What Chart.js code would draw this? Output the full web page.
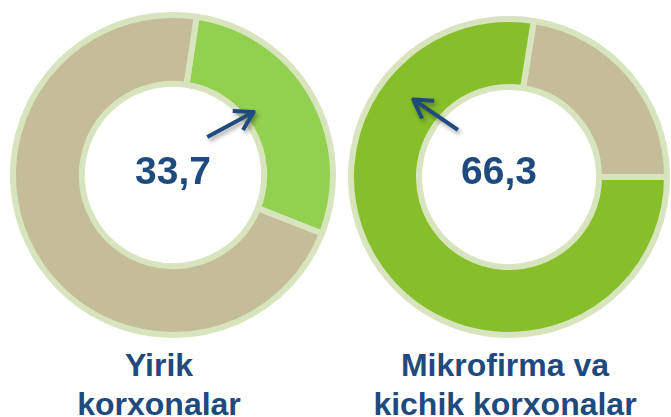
<!DOCTYPE html>
<html>
<head>
<meta charset="utf-8">
<script src="https://cdn.jsdelivr.net/npm/chart.js@4.4.1/dist/chart.umd.min.js"></script>
<style>
  html, body { margin: 0; padding: 0; background: #ffffff; width: 671px; height: 417px; overflow: hidden; }
  #wrap { position: relative; width: 671px; height: 417px; }
  canvas { position: absolute; }
  .lbl { position: absolute; text-align: center; color: #1F4A7E;
         font: bold 32px "Liberation Sans", Arial, sans-serif; line-height: 39px; white-space: nowrap; }
</style>
</head>
<body>
<div id="wrap">
  <canvas id="c1" width="326" height="326" style="left:9.5px; top:12px;"></canvas>
  <canvas id="c2" width="322" height="322" style="left:348px; top:16px;"></canvas>
  <div class="lbl" id="l1" style="left:59px; width:200px; top:346px;"></div>
  <div class="lbl" id="l2" style="left:355px; width:300px; top:346px;"></div>
</div>
<script>
// ---- data ----
const donutTitles = [['Yirik', 'korxonalar'], ['Mikrofirma va', 'kichik korxonalar']];
const centerValues = ['33,7', '66,3'];
const leftSliceLabels = ['Yirik korxonalar', 'Boshqalar'];
const leftSliceValues = [28.6, 71.4];
const rightSliceLabels = ['Boshqalar', 'Mikrofirma va kichik korxonalar'];
const rightSliceValues = [22.5, 77.5];

// ---- styles ----
const TAN = '#C4BD97';
const LIGHT_GREEN = '#92D050';
const DARK_GREEN = '#86BF29';
const EDGE = '#D7E4BD';
const TEXT_BLUE = '#1F4A7E';

const decorPlugin = {
  id: 'centerDecor',
  afterDatasetsDraw(chart, args, opts) {
    const o = (opts && opts.text) ? opts : chart.config.options.plugins.centerDecor;
    const arc = chart.getDatasetMeta(0).data[0];
    const p = arc.getProps(['x', 'y', 'outerRadius'], true);
    const cx = p.x, cy = p.y, R = p.outerRadius;
    const ctx = chart.ctx;
    const pt = (deg, frac) => {
      const a = deg * Math.PI / 180;
      return [cx + Math.sin(a) * frac * R, cy - Math.cos(a) * frac * R];
    };
    const [tx, ty] = pt(o.tailAngle, o.tailR);
    const [hx, hy] = pt(o.tipAngle, o.tipR);
    ctx.save();
    ctx.shadowColor = 'rgba(0,0,0,0.35)';
    ctx.shadowBlur = 4;
    ctx.shadowOffsetX = 2;
    ctx.shadowOffsetY = 3;
    ctx.strokeStyle = TEXT_BLUE;
    ctx.lineWidth = 4;
    ctx.lineCap = 'butt';
    ctx.lineJoin = 'round';
    const back = Math.atan2(ty - hy, tx - hx);
    const bl = 21, ba = 31 * Math.PI / 180;
    ctx.beginPath();
    ctx.moveTo(tx, ty);
    ctx.lineTo(hx, hy);
    ctx.moveTo(hx + bl * Math.cos(back + ba), hy + bl * Math.sin(back + ba));
    ctx.lineTo(hx, hy);
    ctx.lineTo(hx + bl * Math.cos(back - ba), hy + bl * Math.sin(back - ba));
    ctx.stroke();
    ctx.restore();

    ctx.save();
    ctx.font = 'bold 39px "Liberation Sans", Arial, sans-serif';
    ctx.fillStyle = TEXT_BLUE;
    ctx.textAlign = 'center';
    ctx.textBaseline = 'alphabetic';
    ctx.fillText(o.text, cx + o.textDx, cy + o.textDy);
    ctx.restore();
  }
};

function makeDonut(id, labels, values, colors, rotation, decor) {
  return new Chart(document.getElementById(id), {
    type: 'doughnut',
    data: {
      labels: labels,
      datasets: [{
        data: values,
        backgroundColor: colors,
        borderColor: EDGE,
        borderWidth: 6,
        hoverOffset: 0
      }]
    },
    options: {
      responsive: false,
      animation: false,
      events: [],
      cutout: '57%',
      rotation: rotation,
      layout: { padding: 0 },
      plugins: {
        legend: { display: false },
        tooltip: { enabled: false },
        title: { display: false },
        centerDecor: decor
      }
    },
    plugins: [decorPlugin]
  });
}

makeDonut('c1', leftSliceLabels, leftSliceValues, [LIGHT_GREEN, TAN], 8.5,
  { text: centerValues[0], textDx: 0, textDy: 8.5, tipAngle: 52, tipR: 0.64, tailAngle: 42, tailR: 0.32 });
makeDonut('c2', rightSliceLabels, rightSliceValues, [TAN, DARK_GREEN], 9,
  { text: centerValues[1], textDx: -10, textDy: 6.5, tipAngle: -51, tipR: 0.78, tailAngle: -47.3, tailR: 0.44 });

document.getElementById('l1').innerHTML = donutTitles[0].join('<br>');
document.getElementById('l2').innerHTML = donutTitles[1].join('<br>');
</script>
</body>
</html>
